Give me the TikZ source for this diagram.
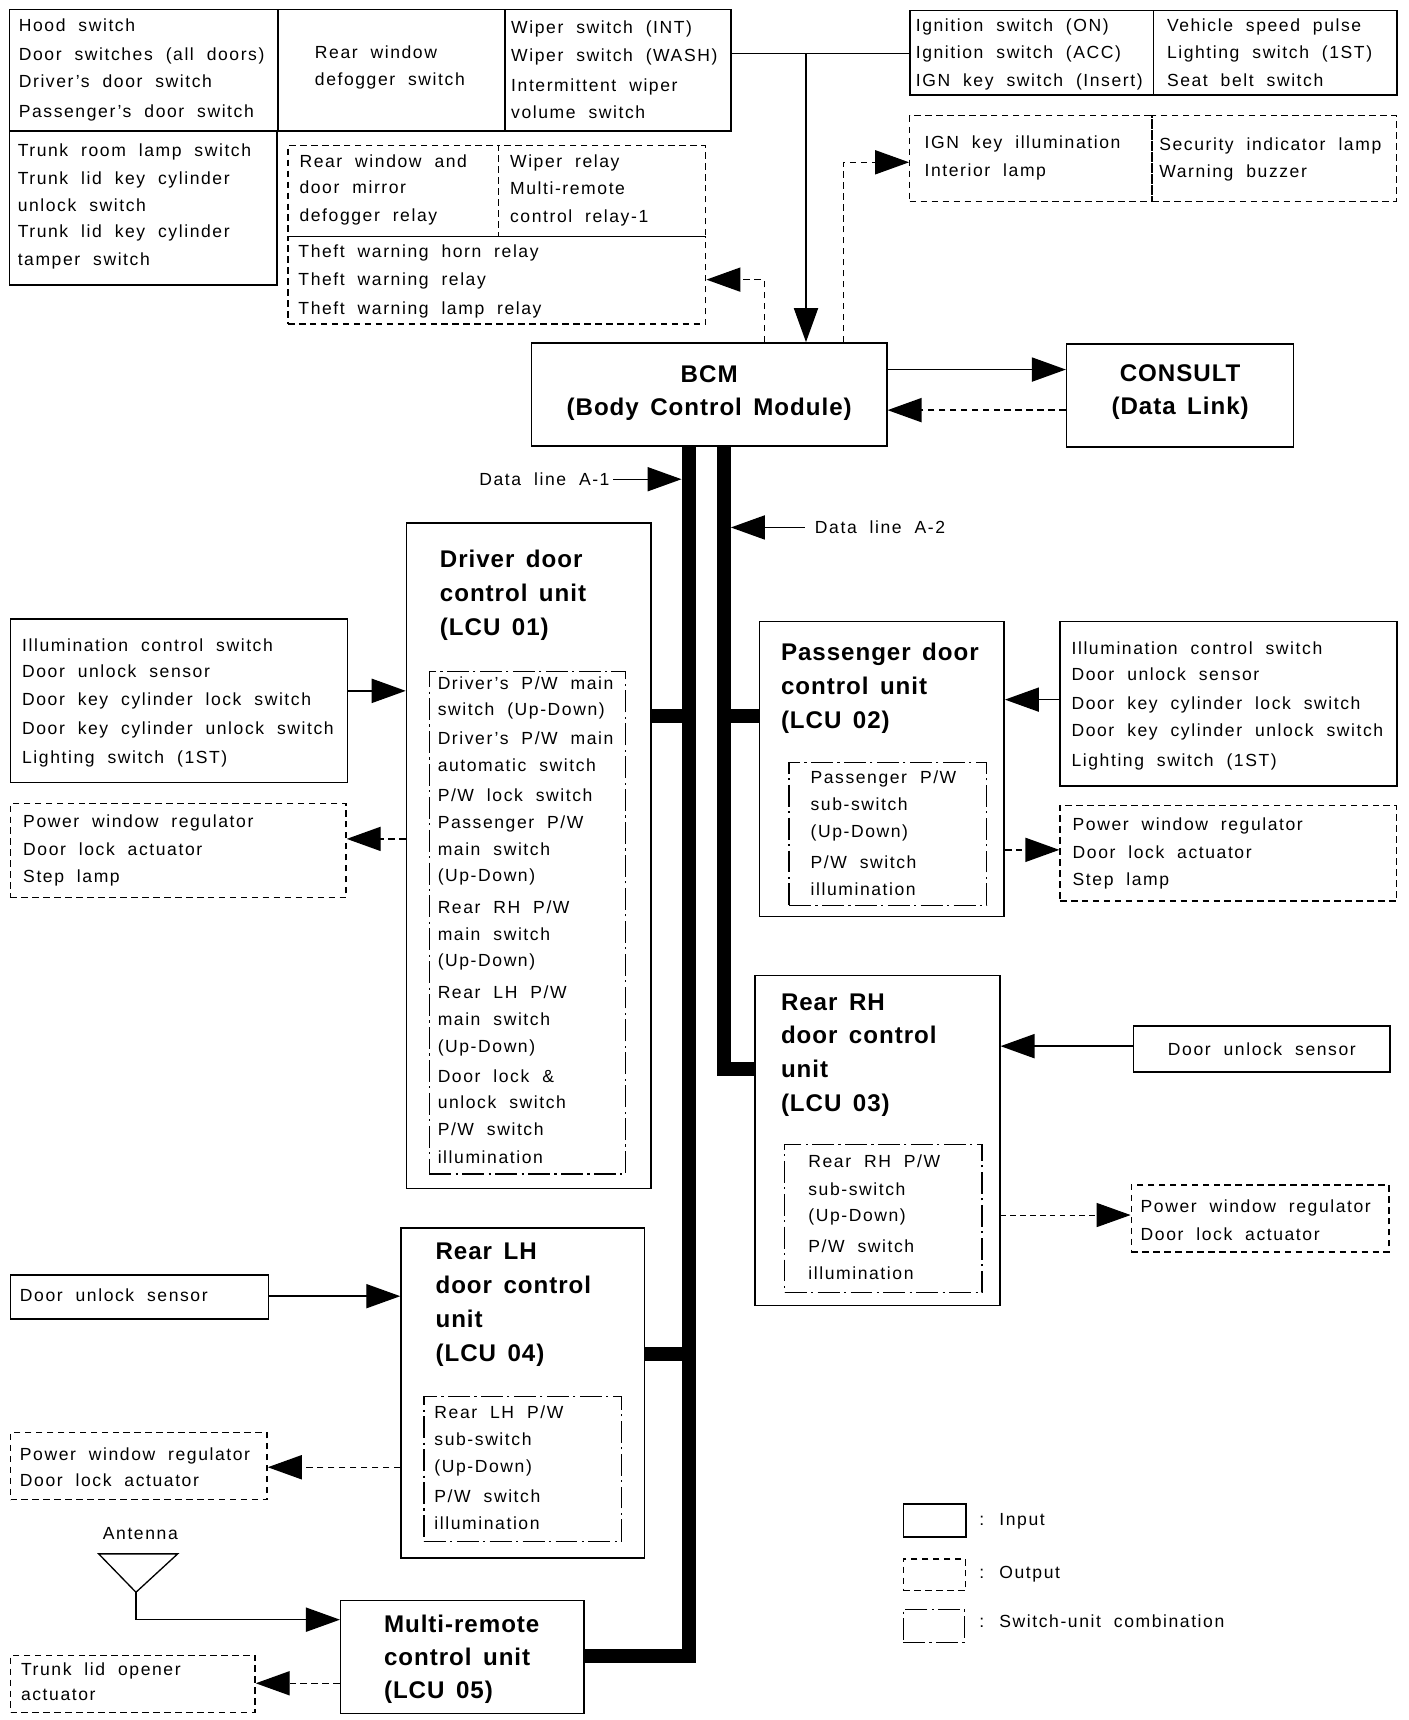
\documentclass[tikz,border=0pt]{standalone}
\usepackage{fontspec}
\setmainfont{Liberation Sans}
\newfontfamily\rfam[LetterSpace=9,WordSpace=2]{Liberation Sans}
\newfontfamily\tfam[LetterSpace=4,WordSpace=1.5]{Liberation Sans}
\usetikzlibrary{arrows.meta}
\newcommand\rfont{\rfam\fontsize{16}{25}\selectfont}
\newcommand\tfont{\tfam\bfseries\fontsize{22}{31}\selectfont}
\newcommand\bx[6]{\node[#2, minimum width=#5pt, minimum height=#6pt] (#1) at (#3,#4) {};}
\newcommand\mytx[4]{\node[txt] (#1) at (#2,#3-6) {#4};}
\newcommand\myti[4]{\node[ttl] (#1) at (#2,#3-8) {#4};}
\begin{document}
\begin{tikzpicture}[x=1pt,y=-1pt,
  sbox/.style={draw, line width=1.4pt, inner sep=0pt, anchor=north west},
  dbox/.style={draw, line width=1.2pt, dash pattern=on 6pt off 4pt, inner sep=0pt, anchor=north west},
  ddbox/.style={draw, line width=1.2pt, dash pattern=on 20pt off 4pt on 2pt off 4pt, inner sep=0pt, anchor=north west},
  txt/.style={inner sep=0pt, anchor=north west, align=left, font=\rfont},
  ttl/.style={inner sep=0pt, anchor=north west, align=left, font=\tfont},
  ttlc/.style={inner sep=0pt, anchor=center, align=center, font=\tfont},
  inarrow/.style={line width=1.3pt, -{Triangle[length=31pt,width=22pt]}},
  outarrow/.style={inarrow, dash pattern=on 6pt off 4pt},
  thinout/.style={line width=0.9pt, dash pattern=on 5pt off 4pt, -{Triangle[length=31pt,width=22pt]}},
  bus/.style={line width=13pt, line join=miter, line cap=butt},
  plain/.style={line width=1.3pt}]
\useasboundingbox (0,0) rectangle (1284,1568.5);

% ---------- boxes ----------
\bx{A}{sbox}{8}{8}{245}{111}
\bx{B}{sbox}{253}{8}{207}{111}
\bx{C}{sbox}{460}{8}{206}{111}
\bx{D}{sbox}{8}{119}{244}{140}
\bx{E1}{dbox}{262}{132}{192}{83}
\bx{E2}{dbox}{454}{132}{189}{83}
\bx{E3}{dbox}{262}{215}{381}{80}
\bx{F1}{sbox}{829}{9}{222}{77}
\bx{F2}{sbox}{1051}{9}{222}{77}
\bx{G1}{dbox}{829}{105}{221}{78}
\bx{G2}{dbox}{1050}{105}{223}{78}
\bx{BCM}{sbox}{484}{312}{324}{94}
\bx{CON}{sbox}{972}{313}{207}{94}
\bx{DRV}{sbox}{370}{476}{223}{607}
\bx{DRVi}{ddbox}{391}{612}{179}{458}
\bx{H}{sbox}{9}{564}{307}{149}
\bx{I}{dbox}{9}{732}{306}{86}
\bx{PAS}{sbox}{692}{566}{223}{269}
\bx{PASi}{ddbox}{719}{695}{180}{130}
\bx{J}{sbox}{966}{566}{307}{150}
\bx{K}{dbox}{966}{734}{307}{87}
\bx{RRH}{sbox}{688}{889}{223}{301}
\bx{RRHi}{ddbox}{715}{1043}{180}{135}
\bx{L}{sbox}{1033}{935}{234}{42}
\bx{M}{dbox}{1031}{1080}{235}{61}
\bx{RLH}{sbox}{365}{1119}{222}{301}
\bx{RLHi}{ddbox}{386}{1273}{180}{132}
\bx{N}{sbox}{9}{1162}{235}{40}
\bx{O}{dbox}{9}{1306}{234}{61}
\bx{MR}{sbox}{310}{1459}{222}{103}
\bx{P}{dbox}{9}{1509}{223}{52}
\bx{LI}{sbox}{823}{1371}{57}{30}
\bx{LO}{dbox}{823}{1421}{57}{29}
\bx{LS}{ddbox}{823}{1467}{56}{30}

% ---------- texts ----------
\mytx{tA}{17}{23}{Hood switch\\[1pt] Door switches (all doors)\\ Driver’s door switch\\[2pt] Passenger’s door switch}
\mytx{tB}{287}{48}{Rear window\\[-1pt] defogger switch}
\mytx{tC}{466}{25}{Wiper switch (INT)\\ Wiper switch (WASH)\\[3pt] Intermittent wiper\\[-1pt] volume switch}
\mytx{tD}{16}{137}{Trunk room lamp switch\\ Trunk lid key cylinder\\ unlock switch\\[-1pt] Trunk lid key cylinder\\ tamper switch}
\mytx{tE1}{273}{147}{Rear window and\\[-1pt] door mirror\\ defogger relay}
\mytx{tE2}{465}{147}{Wiper relay\\ Multi-remote\\ control relay-1}
\mytx{tE3}{272}{229}{Theft warning horn relay\\[1pt] Theft warning relay\\[1pt] Theft warning lamp relay}
\mytx{tF1}{835}{23}{Ignition switch (ON)\\ Ignition switch (ACC)\\ IGN key switch (Insert)}
\mytx{tF2}{1064}{23}{Vehicle speed pulse\\ Lighting switch (1ST)\\ Seat belt switch}
\mytx{tG1}{843}{130}{IGN key illumination\\ Interior lamp}
\mytx{tG2}{1057}{131}{Security indicator lamp\\ Warning buzzer}
\node[ttlc] (tBCM) at ([yshift=1pt]BCM.center) {BCM\\[-1pt](Body Control Module)};
\node[ttlc] (tCON) at ([yshift=3pt]CON.center) {CONSULT\\[-1pt](Data Link)};
\myti{tDRV}{401}{509}{Driver door\\ control unit\\ (LCU 01)}
\mytx{tDRVi}{399}{623}{Driver’s P/W main\\[-1pt] switch (Up-Down)\\[1pt] Driver’s P/W main\\ automatic switch\\[2pt] P/W lock switch\\ Passenger P/W\\[-1pt] main switch\\[-1pt] (Up-Down)\\[4pt] Rear RH P/W\\ main switch\\[-1pt] (Up-Down)\\[4pt] Rear LH P/W\\[-1pt] main switch\\ (Up-Down)\\[2pt] Door lock \&\\[-1pt] unlock switch\\ P/W switch\\ illumination}
\mytx{tH}{20}{588}{Illumination control switch\\[-1pt] Door unlock sensor\\[1pt] Door key cylinder lock switch\\[1pt] Door key cylinder unlock switch\\[1pt] Lighting switch (1ST)}
\mytx{tI}{21}{749}{Power window regulator\\ Door lock actuator\\ Step lamp}
\myti{tPAS}{712}{594}{Passenger door\\ control unit\\ (LCU 02)}
\mytx{tPASi}{739}{709}{Passenger P/W\\[-1pt] sub-switch\\ (Up-Down)\\[3pt] P/W switch\\ illumination}
\mytx{tJ}{977}{591}{Illumination control switch\\[-1pt] Door unlock sensor\\[1pt] Door key cylinder lock switch\\ Door key cylinder unlock switch\\[2pt] Lighting switch (1ST)}
\mytx{tK}{978}{752}{Power window regulator\\ Door lock actuator\\ Step lamp}
\myti{tRRH}{712}{914}{Rear RH\\[-1pt] door control\\ unit\\ (LCU 03)}
\mytx{tRRHi}{737}{1059}{Rear RH P/W\\ sub-switch\\[-1pt] (Up-Down)\\[3pt] P/W switch\\ illumination}
\node[txt, anchor=center] (tL) at (L.center) {Door unlock sensor};
\mytx{tM}{1040}{1100}{Power window regulator\\ Door lock actuator}
\myti{tRLH}{397}{1141}{Rear LH\\ door control\\ unit\\ (LCU 04)}
\mytx{tRLHi}{396}{1288}{Rear LH P/W\\[-1pt] sub-switch\\ (Up-Down)\\[2pt] P/W switch\\ illumination}
\mytx{tN}{18}{1181}{Door unlock sensor}
\mytx{tO}{18}{1326}{Power window regulator\\[-1pt] Door lock actuator}
\myti{tMR}{350}{1481}{Multi-remote\\[-1pt] control unit\\[-1pt] (LCU 05)}
\mytx{tP}{19}{1522}{Trunk lid opener\\[-2pt] actuator}
\node[txt, anchor=center] (tAnt) at (128,1398) {Antenna};
\mytx{tLI}{893}{1386}{: Input}
\mytx{tLO}{893}{1434}{: Output}
\mytx{tLS}{893}{1478}{: Switch-unit combination}
\node[txt, anchor=east] (dl1) at (556,437) {Data line A-1};
\node[txt, anchor=west] (dl2) at (743,481) {Data line A-2};

% ---------- antenna ----------
\draw[line width=1.2pt, line join=miter] (90,1417) -- (162,1417) -- (124,1452) -- cycle;
\coordinate (antTip) at (124,1452);

% ---------- connectors ----------
\coordinate (jn) at (735,49);
\draw[plain] (C.east |- jn) -- (F1.west |- jn);
\draw[inarrow] (jn) -- (BCM.north -| jn);
\draw[outarrow] (BCM.north -| 697,0) |- (E3.east |- 0,255);
\draw[outarrow] (BCM.north -| 769,0) |- (G1.west |- 0,148);
\draw[inarrow] (BCM.east |- 0,337) -- (CON.west |- 0,337);
\draw[outarrow] (CON.west |- 0,374) -- (BCM.east |- 0,374);

% data buses
\coordinate (b1c) at (628,1510);
\coordinate (b2c) at (660,975);
\draw[bus] (BCM.south -| b1c) -- (b1c) -- (MR.east |- b1c);
\draw[bus] (BCM.south -| b2c) -- (b2c) -- (RRH.west |- b2c);
\draw[bus] (628,653) -- (DRV.east |- 0,653);
\draw[bus] (660,653) -- (PAS.west |- 0,653);
\draw[bus] (628,1235) -- (RLH.east |- 0,1235);
\coordinate (b1w) at (621.5,437);
\coordinate (b2e) at (666.5,481);
\draw[inarrow] ([xshift=3pt]dl1.east) -- (b1w);
\draw[inarrow] ([xshift=-9pt]dl2.west) -- (b2e);

% unit inputs / outputs
\draw[inarrow] (H.east |- 0,630) -- (DRV.west |- 0,630);
\draw[outarrow] (DRV.west |- 0,765) -- (I.east |- 0,765);
\draw[inarrow] (J.west |- 0,638) -- (PAS.east |- 0,638);
\draw[outarrow] (PAS.east |- 0,775) -- (K.west |- 0,775);
\draw[inarrow] (L.west |- 0,954) -- (RRH.east |- 0,954);
\draw[thinout] (RRH.east |- 0,1108) -- (M.west |- 0,1108);
\draw[inarrow] (N.east |- 0,1182) -- (RLH.west |- 0,1182);
\draw[outarrow] (RLH.west |- 0,1338) -- (O.east |- 0,1338);
\draw[inarrow] (antTip) |- (MR.west |- 0,1477);
\draw[outarrow] (MR.west |- 0,1535) -- (P.east |- 0,1535);
\end{tikzpicture}
\end{document}
